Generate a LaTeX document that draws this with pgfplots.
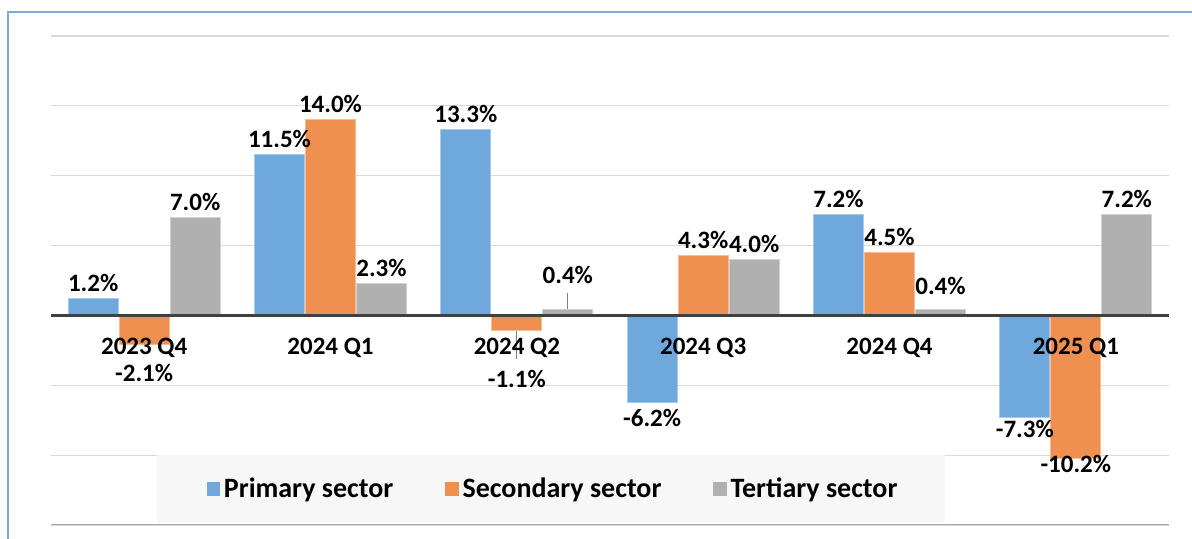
\documentclass[border=0pt]{standalone}
\usepackage{pgfplots}
\pgfplotsset{compat=1.18}
\usepackage{pgfplotstable}
\usepackage{fontspec}
\setmainfont{Carlito}
\definecolor{cblue}{RGB}{111,168,220}
\definecolor{corange}{RGB}{240,144,80}
\definecolor{cgray}{RGB}{176,176,176}
\definecolor{frameblue}{RGB}{120,170,220}
\definecolor{gridc}{RGB}{217,217,217}
\definecolor{zeroc}{RGB}{64,64,64}

\pgfplotstableread{
x y off
0 1.2 2.83
1 11.5 2.83
2 13.3 2.83
3 -6.2 -2.83
4 7.2 2.83
5 -7.3 -0.83
}\primary
\pgfplotstableread{
x y off
0 -2.1 -8.83
1 14.0 2.83
2 -1.1 -18.83
3 4.3 2.83
4 4.5 2.83
5 -10.2 2.17
}\secondary
\pgfplotstableread{
x y off
0 7.0 2.83
1 2.3 2.83
2 0.4 12.33
3 4.0 2.83
4 0.4 6.83
5 7.2 2.83
}\tertiary

\pgfplotsset{
  common/.style={
    scale only axis, width=559pt, height=244.5pt,
    xmin=-0.5, xmax=5.5, ymin=-15, ymax=20,
    axis x line=middle, axis y line=left,
    y axis line style={draw=none},
    xtick={0,1,2,3,4,5},
    major tick length=0pt,
  }
}

\begin{document}
\begin{tikzpicture}
\begin{axis}[
  name=ax, common,
  x axis line style={-, line width=1.6pt, color=zeroc},
  xticklabels={},
  ytick={-15,-10,...,20}, yticklabels={},
  ymajorgrids, grid style={gridc, line width=0.6pt},
  ybar=0.5pt, bar width=25pt,
  /pgf/number format/assume math mode=true,
  visualization depends on={\thisrow{off} \as \myoff},
  nodes near coords={\pgfmathprintnumber[fixed,fixed zerofill,precision=1]{\pgfplotspointmeta}\%},
  every node near coord/.append style={font=\bfseries\fontsize{12.5}{14}\selectfont, inner ysep=0.5pt, yshift=\myoff pt, text=black},
  legend columns=3,
  legend style={at={(0.450,0.0736)}, anchor=center, draw=none, fill=none,
    font=\bfseries\fontsize{14}{16}\selectfont,
    /tikz/every even column/.append style={column sep=24pt}},
  legend image code/.code={\fill[#1,draw=none] (0pt,-3.3pt) rectangle (6.6pt,3.3pt);},
]
\addplot[fill=cblue, draw=cblue!60!white] table[x=x,y=y] {\primary};
\addplot[fill=corange, draw=corange!60!white] table[x=x,y=y] {\secondary};
\addplot[fill=cgray, draw=cgray!60!white] table[x=x,y=y] {\tertiary};
\legend{Primary sector,Secondary sector,Tertiary sector}
\draw[zeroc, line width=1.7pt] (axis cs:-0.5,0) -- (axis cs:5.5,0);
\draw[gray, line width=0.6pt] (axis cs:2.2737,0.45) -- (axis cs:2.2737,1.64);
\draw[gray, line width=0.6pt] (axis cs:2,-1.15) -- (axis cs:2,-3.14);
\fill[black!3] (axis cs:0.069,-10) rectangle (axis cs:4.298,-14.86);
\draw[black!35, line width=0.8pt] (axis cs:-0.5,-15) -- (axis cs:5.5,-15);
\end{axis}
\begin{axis}[
  common,
  x axis line style={draw=none},
  ytick=\empty,
  xticklabels={2023 Q4,2024 Q1,2024 Q2,2024 Q3,2024 Q4,2025 Q1},
  xticklabel style={font=\bfseries\fontsize{12.5}{14}\selectfont, inner ysep=0.5pt, yshift=-10.83pt},
]
\end{axis}
\draw[frameblue, line width=1pt] ([shift={(-21.5pt,-7pt)}]ax.south west) -- ++(0pt,263.5pt) -- ++(592pt,0pt);
\pgfresetboundingbox
\useasboundingbox ([shift={(-25.5pt,-7pt)}]ax.south west) rectangle ++(596pt,269.5pt);
\end{tikzpicture}
\end{document}
